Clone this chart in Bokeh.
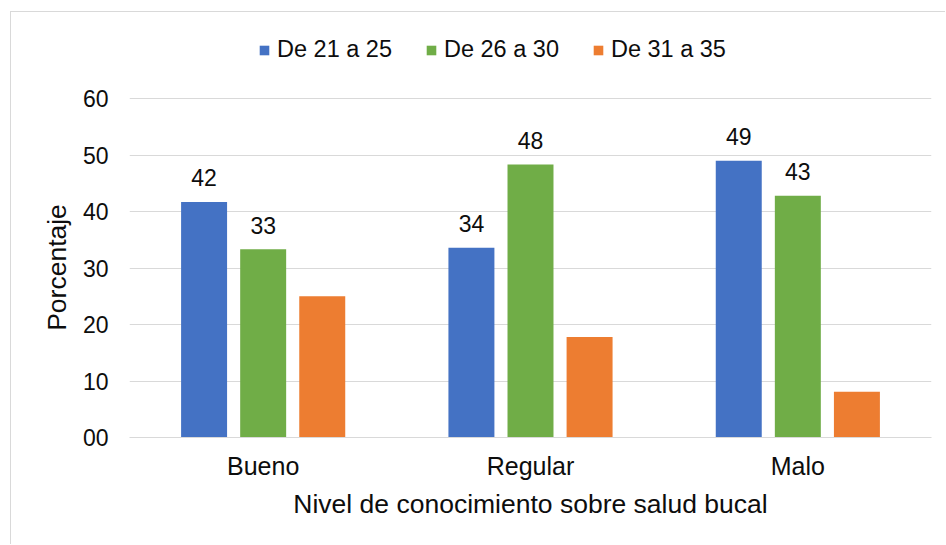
from bokeh.plotting import figure
from bokeh.layouts import column
from bokeh.models import (ColumnDataSource, FactorRange, FixedTicker, Legend, LegendItem)
from bokeh.transform import dodge
from bokeh.embed import file_html
from bokeh.resources import INLINE

# ---- data ----
categories = ["Bueno", "Regular", "Malo"]
series_names = ["De 21 a 25", "De 26 a 30", "De 31 a 35"]
serie_21_25 = [41.7, 33.6, 49.0]
serie_26_30 = [33.3, 48.3, 42.8]
serie_31_35 = [25.0, 17.8, 8.1]
y_ticks = [0, 10, 20, 30, 40, 50, 60]
y_tick_labels = ["00", "10", "20", "30", "40", "50", "60"]
x_title = "Nivel de conocimiento sobre salud bucal"
y_title = "Porcentaje"

colors = ["#4472C4", "#70AD47", "#ED7D31"]
offsets = [-0.221, 0.0, 0.221]
FONT = "Liberation Sans"
TEXT_COLOR = "#0d0d0d"
GRID = "#D9D9D9"
BORDER = "1px solid #D9D9D9"

src = ColumnDataSource(dict(
    cat=categories,
    s0=serie_21_25, s1=serie_26_30, s2=serie_31_35,
    l0=[str(int(round(v))) for v in serie_21_25],
    l1=[str(int(round(v))) for v in serie_26_30],
))

# ---- legend strip (top of the chart area) ----
leg_fig = figure(width=935, height=75, x_range=(0, 1), y_range=(0, 1),
                 x_axis_type=None, y_axis_type=None,
                 min_border=0, output_backend="svg", toolbar_location=None)
leg_fig.margin = (11, 0, 0, 10)
leg_fig.styles = {"border-top": BORDER, "border-left": BORDER}
leg_fig.outline_line_color = None
leg_fig.xgrid.visible = False
leg_fig.ygrid.visible = False
# zero-height swatch renderers (only used to draw the legend keys)
dummies = [leg_fig.vbar(x=col, top=0, bottom=0, width=0.01, source=src,
                        fill_color=c, line_color=None)
           for col, c in zip(["s0", "s1", "s2"], colors)]
legend = Legend(
    items=[LegendItem(label=series_names[i], renderers=[dummies[i]]) for i in range(3)],
    orientation="horizontal", location=(129, 24),
    glyph_width=12, glyph_height=12, label_height=20, label_standoff=7,
    spacing=33, padding=0, margin=0,
    label_text_font=FONT, label_text_font_size="23.5px", label_text_color=TEXT_COLOR,
    border_line_color=None, background_fill_alpha=0,
)
leg_fig.add_layout(legend)

# ---- main chart ----
p = figure(
    x_range=FactorRange(factors=categories, range_padding=0, factor_padding=0),
    y_range=(0, 60.18),
    frame_width=801, frame_height=340,
    min_border_left=118, min_border_right=16,
    min_border_top=11, min_border_bottom=107,
    output_backend="svg", toolbar_location=None,
)
p.margin = (0, 0, 0, 10)
p.styles = {"border-left": BORDER}
p.outline_line_color = None

for i, col in enumerate(["s0", "s1", "s2"]):
    p.vbar(x=dodge("cat", offsets[i], range=p.x_range), top=col, width=0.172,
           source=src, fill_color=colors[i], line_color=None)

# data labels only for the first two series
for i, col in enumerate(["s0", "s1"]):
    p.text(x=dodge("cat", offsets[i], range=p.x_range), y=col, text="l%d" % i,
           source=src, text_align="center", text_baseline="alphabetic",
           y_offset=-24, text_font_size="23px", text_color=TEXT_COLOR,
           text_font={"value": FONT})

# grid
p.xgrid.grid_line_color = None
p.ygrid.grid_line_color = GRID
p.ygrid.grid_line_width = 1
p.yaxis.ticker = FixedTicker(ticks=y_ticks)
p.yaxis.major_label_overrides = {t: l for t, l in zip(y_ticks, y_tick_labels)}

# y axis
p.yaxis.axis_line_color = None
p.yaxis.major_tick_line_color = None
p.yaxis.minor_tick_line_color = None
p.yaxis.major_tick_out = 0
p.yaxis.major_tick_in = 0
p.yaxis.major_label_standoff = 21
p.yaxis.major_label_text_font = FONT
p.yaxis.major_label_text_font_size = "23px"
p.yaxis.major_label_text_color = TEXT_COLOR
p.yaxis.axis_label = y_title
p.yaxis.axis_label_text_font = FONT
p.yaxis.axis_label_text_font_size = "26.5px"
p.yaxis.axis_label_text_font_style = "normal"
p.yaxis.axis_label_text_color = TEXT_COLOR
p.yaxis.axis_label_standoff = 8

# x axis
p.xaxis.axis_line_color = GRID
p.xaxis.axis_line_width = 1
p.xaxis.major_tick_line_color = None
p.xaxis.minor_tick_line_color = None
p.xaxis.major_tick_out = 0
p.xaxis.major_tick_in = 0
p.xaxis.major_label_standoff = 14
p.xaxis.major_label_text_font = FONT
p.xaxis.major_label_text_font_size = "25px"
p.xaxis.major_label_text_color = TEXT_COLOR
p.xaxis.axis_label = x_title
p.xaxis.axis_label_text_font = FONT
p.xaxis.axis_label_text_font_size = "26.5px"
p.xaxis.axis_label_text_font_style = "normal"
p.xaxis.axis_label_text_color = TEXT_COLOR
p.xaxis.axis_label_standoff = 6

layout = column(leg_fig, p, spacing=0)
open("out.html", "w").write(file_html(layout, INLINE))
